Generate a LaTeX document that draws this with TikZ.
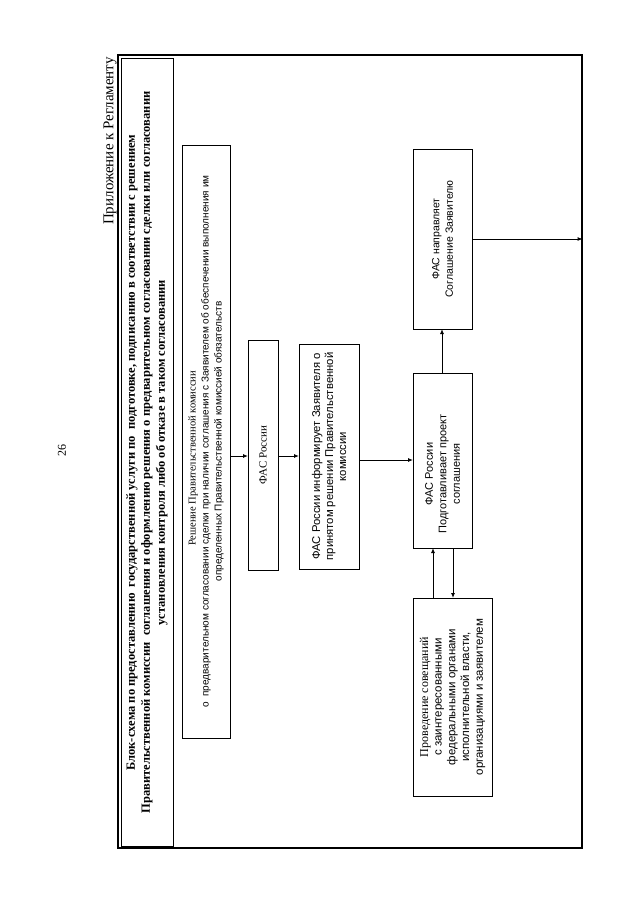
\documentclass[tikz,border=0pt]{standalone}
\usepackage{fontspec}
\setmainfont{Liberation Serif}
\setsansfont{Liberation Sans}
\usepackage{graphicx}
\usetikzlibrary{arrows.meta}
\begin{document}
\begin{tikzpicture}[x=1pt,y=-1pt,
  box/.style={draw, line width=0.9pt, inner sep=0pt, outer sep=0pt},
  txt/.style={rotate=90, align=center, inner sep=0pt},
  arr/.style={-{Latex[length=5pt,width=4pt]}, line width=0.9pt}]
\useasboundingbox (0,0) rectangle (640,905);
% outer frame and header
\node[draw, line width=1.2pt, inner sep=0pt, minimum width=464pt, minimum height=793pt] (page) at (350,451.5) {};
\node[box, minimum width=52pt, minimum height=788pt] (H) at (147,452.5) {};
\node[txt, font=\bfseries\fontsize{12.5}{15}\selectfont] (Ht) at (H.center)
  {Блок-схема по предоставлению~ государственной услуги по~ подготовке, подписанию в соответствии с решением\\
   Правительственной комиссии~ соглашения и оформлению решения о предварительном согласовании сделки или согласовании\\
   установления контроля либо об отказе в таком согласовании};
\node[txt, font=\fontsize{15}{18}\selectfont] (pril) at (110,141) {Приложение к Регламенту};
\node[txt, font=\fontsize{12}{14}\selectfont] (num) at (62,450) {26};
% boxes
\node[box, minimum width=48pt, minimum height=593pt] (A) at (206,441.5) {};
\node[box, minimum width=30pt, minimum height=230pt] (B) at (263,455) {};
\node[box, minimum width=60pt, minimum height=225pt] (C) at (329,456.5) {};
\node[box, minimum width=59pt, minimum height=175pt] (D) at (442.5,460.5) {};
\node[box, minimum width=59pt, minimum height=180pt] (E) at (442.5,239) {};
\node[box, minimum width=79pt, minimum height=198pt] (F) at (452.5,697) {};
% texts
\node[txt, font=\fontsize{10}{13}\selectfont] (At) at (A.center)
  {{\rmfamily\fontsize{10.5}{13}\selectfont Решение Правительственной комиссии\hspace*{34pt}}\\
   \sffamily о~ предварительном согласовании сделки при наличии соглашения с Заявителем об обеспечении выполнения им\\
   \sffamily определенных Правительственной комиссией обязательств};
\node[txt, font=\fontsize{11}{13}\selectfont] (Bt) at (B.center) {ФАС России};
\node[txt, font=\sffamily\fontsize{11.3}{13}\selectfont] (Ct) at (C.center)
  {ФАС России информирует Заявителя о\\ принятом решении Правительственной\\ комиссии};
\node[txt, font=\sffamily\fontsize{11}{13.5}\selectfont] (Dt) at (442.5,474)
  {ФАС России\\ Подготавливает проект\\ соглашения};
\node[txt, font=\sffamily\fontsize{10.5}{13.5}\selectfont] (Et) at (E.center)
  {ФАС направляет\\ Соглашение Заявителю};
\node[txt, font=\sffamily\fontsize{11.5}{13.7}\selectfont] (Ft) at (F.center)
  {{\rmfamily\fontsize{12}{13.7}\selectfont Проведение совещаний}\\ с заинтересованными\\ федеральными органами\\ исполнительной власти,\\ организациями и заявителем};
% connectors
\coordinate (r1) at (0,456);
\coordinate (r2) at (0,460);
\coordinate (c1) at (442,0);
\coordinate (c2) at (433,0);
\coordinate (c3) at (453,0);
\draw[arr] (A.east |- r1) -- (B.west |- r1);
\draw[arr] (B.east |- r1) -- (C.west |- r1);
\draw[arr] (C.east |- r2) -- (D.west |- r2);
\draw[arr] (D.north -| c1) -- (E.south -| c1);
\draw[arr] (F.north -| c2) -- (D.south -| c2);
\draw[arr] (D.south -| c3) -- (F.north -| c3);
\draw[arr] (E.east) -- (E.east -| page.east);
\end{tikzpicture}
\end{document}
